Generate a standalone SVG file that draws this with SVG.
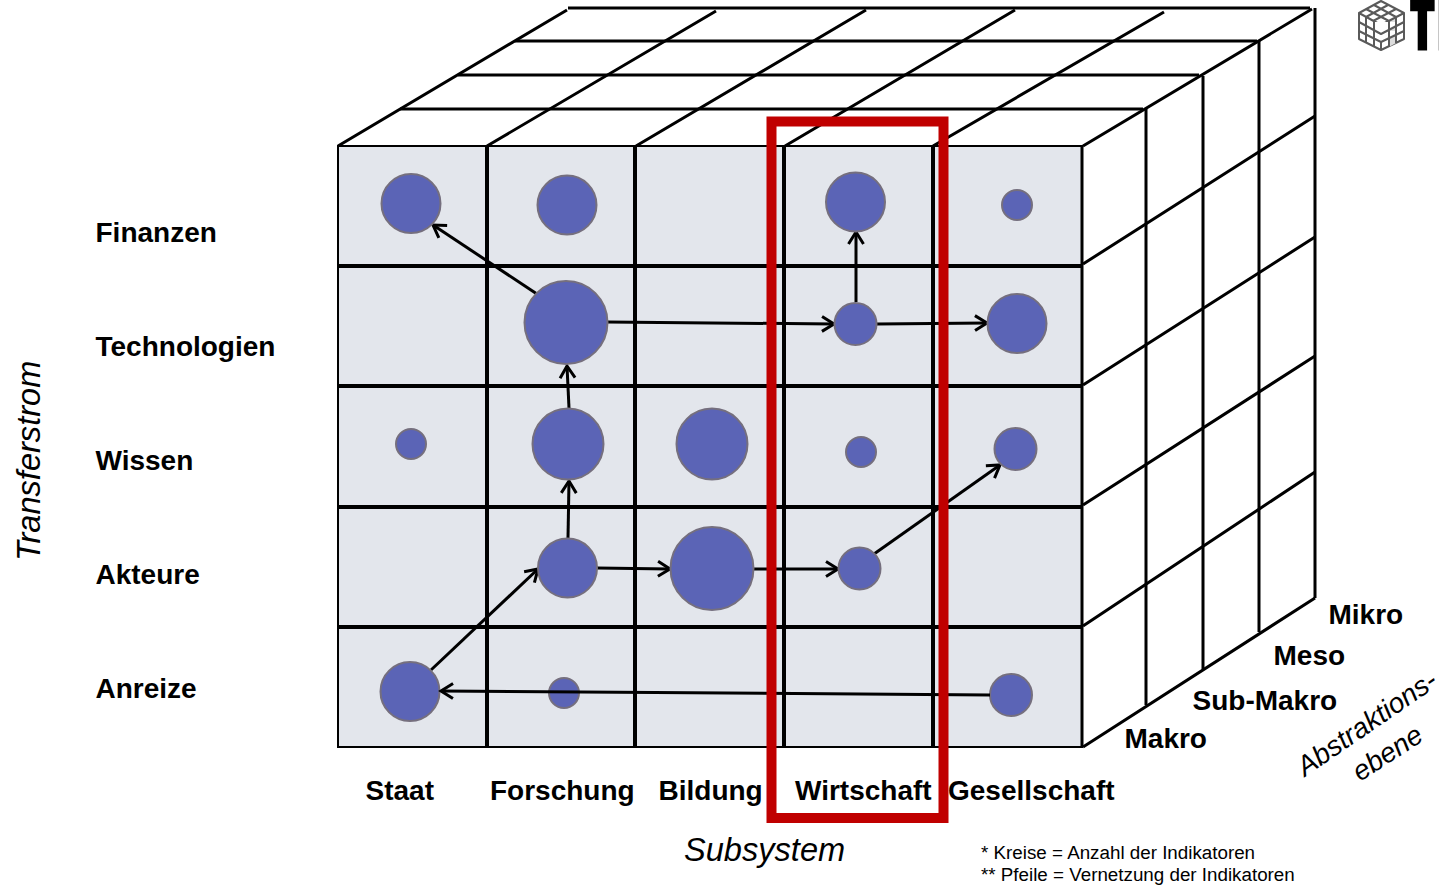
<svg xmlns="http://www.w3.org/2000/svg" width="1439" height="885" viewBox="0 0 1439 885">
<style>
text{font-family:"Liberation Sans",Arial,sans-serif;fill:#000}
.b{font-size:28px;font-weight:700}
.i{font-size:32.6px;font-style:italic}
.a{font-size:27.9px;font-style:italic}
.n{font-size:18.8px}
.l{stroke:#000;fill:none;stroke-linecap:butt}
.t{stroke-width:3}
.f{stroke-width:4}
.node{fill:#5B64B6;stroke:#756F7E;stroke-width:2}
.ar{stroke:#000;stroke-width:3;fill:none}
.cube{stroke:#5a5a5a;stroke-width:2;fill:#fff;stroke-linejoin:round}
</style>
<defs>
<marker id="h" markerUnits="userSpaceOnUse" markerWidth="20" markerHeight="20" refX="16" refY="10" orient="auto" viewBox="0 0 20 20">
<path d="M4 2.500L16 10L4 17.500" fill="none" stroke="#000" stroke-width="3"/>
</marker>
</defs>
<rect x="0" y="0" width="1439" height="885" fill="#fff"/>
<g id="cube-grid">
<rect x="338" y="146" width="744" height="601" fill="#E3E6EC" stroke="#000" stroke-width="2"/>
<g class="l t">
<path d="M338 146L567 10M487 146L716 11M636 146L866 10M785 146L1015 10M933 146L1164 12M1083 146L1312 9"/>
<path d="M568 8H1310M515 41H1257M458 75H1199M400 109H1143"/>
<path d="M1082 146V747M1146 108V705M1203 76V669M1259 41V632M1315 8V598"/>
<path d="M1083 747L1315 598M1083 264L1315 116M1083 385L1315 237M1083 505L1315 356M1083 626L1315 472"/>
</g>
<g class="l f">
<path d="M338 266H1082M338 386H1082M338 507H1082M338 627H1082"/>
<path d="M487 146V747M635 146V747M784 146V747M933 146V747"/>
</g>
</g>
<g id="logo">
<g class="cube">
<path d="M1381 1L1404 13V39L1381 50L1359 39V13Z"/>
<path d="M1389 21L1396 17V43L1389 47Z" fill="#ddd" stroke="none"/>
<path d="M1359 13L1381 25L1404 13M1381 25V50M1366 9L1389 21M1374 5L1396 17M1373 21L1396 9M1366 17L1388 5"/>
<path d="M1359 22L1381 34L1404 22M1359 31L1381 42L1404 31M1366 17V43M1374 21V47M1389 21V47M1396 17V43"/>
</g>
<text transform="translate(1412 46) scale(.5 1)" style="font-size:68px;font-weight:700;stroke:#000;stroke-width:9">T<tspan dx="12">I</tspan></text>
</g>
<g id="connectors">
<path class="ar" d="M540 296L433 225" marker-end="url(#h)"/>
<path class="ar" d="M607 322L834 324" marker-end="url(#h)"/>
<path class="ar" d="M856 302V232" marker-end="url(#h)"/>
<path class="ar" d="M877 324L987 323" marker-end="url(#h)"/>
<path class="ar" d="M569 408L567 366" marker-end="url(#h)"/>
<path class="ar" d="M568 538L569 481" marker-end="url(#h)"/>
<path class="ar" d="M597 568L670 569" marker-end="url(#h)"/>
<path class="ar" d="M753 569L838 569" marker-end="url(#h)"/>
<path class="ar" d="M874 554L1000 465" marker-end="url(#h)"/>
<path class="ar" d="M431 670L538 569" marker-end="url(#h)"/>
</g>
<g id="n-staat-finanzen"><circle class="node" cx="411" cy="203.500" r="29.500"/></g>
<g id="n-forschung-finanzen"><circle class="node" cx="567" cy="205" r="29.500"/></g>
<g id="n-wirtschaft-finanzen"><circle class="node" cx="855.500" cy="202" r="29.500"/></g>
<g id="n-gesellschaft-finanzen"><circle class="node" cx="1017" cy="205" r="15"/></g>
<g id="n-forschung-technologien"><circle class="node" cx="566" cy="322.500" r="41.500"/></g>
<g id="n-wirtschaft-technologien"><circle class="node" cx="855.500" cy="324" r="21"/></g>
<g id="n-gesellschaft-technologien"><circle class="node" cx="1017" cy="323.500" r="29.500"/></g>
<g id="n-staat-wissen"><circle class="node" cx="411" cy="444" r="15"/></g>
<g id="n-forschung-wissen"><circle class="node" cx="568" cy="444" r="35.500"/></g>
<g id="n-bildung-wissen"><circle class="node" cx="712" cy="444" r="35.500"/></g>
<g id="n-wirtschaft-wissen"><circle class="node" cx="861" cy="452" r="15"/></g>
<g id="n-gesellschaft-wissen"><circle class="node" cx="1015.500" cy="449" r="21"/></g>
<g id="n-forschung-akteure"><circle class="node" cx="567.500" cy="568" r="29.500"/></g>
<g id="n-bildung-akteure"><circle class="node" cx="712" cy="568.500" r="41.500"/></g>
<g id="n-wirtschaft-akteure"><circle class="node" cx="859.500" cy="568.500" r="21"/></g>
<g id="n-staat-anreize"><circle class="node" cx="410" cy="691.500" r="29.500"/></g>
<g id="n-forschung-anreize"><circle class="node" cx="564" cy="693" r="15"/></g>
<g id="n-gesellschaft-anreize"><circle class="node" cx="1011" cy="695" r="21"/></g>
<g id="connectors-over">
<path class="ar" d="M990 695L441 691" marker-end="url(#h)"/>
</g>
<g id="highlight"><rect x="771.500" y="121.500" width="172" height="696.500" fill="none" stroke="#C00000" stroke-width="10"/></g>
<g id="labels">
<text class="b" x="95.500" y="242">Finanzen</text>
<text class="b" x="95.500" y="356">Technologien</text>
<text class="b" x="95.500" y="470">Wissen</text>
<text class="b" x="95.500" y="584">Akteure</text>
<text class="b" x="95.500" y="698">Anreize</text>
<text class="b" x="365.500" y="800">Staat</text>
<text class="b" x="490" y="800">Forschung</text>
<text class="b" x="658.500" y="800">Bildung</text>
<text class="b" x="795" y="800">Wirtschaft</text>
<text class="b" x="948" y="800">Gesellschaft</text>
<text class="b" x="1328.500" y="624">Mikro</text>
<text class="b" x="1273.500" y="665">Meso</text>
<text class="b" x="1192.500" y="710">Sub-Makro</text>
<text class="b" x="1124.500" y="748">Makro</text>
<text class="i" x="684" y="861">Subsystem</text>
<text class="i" transform="translate(39.500 561) rotate(-90)">Transferstrom</text>
<text class="a" transform="translate(1305 777) rotate(-34.500)">Abstraktions-</text>
<text class="a" transform="translate(1360 782) rotate(-33)">ebene</text>
<text class="n" x="981" y="859">* Kreise = Anzahl der Indikatoren</text>
<text class="n" x="981" y="881">** Pfeile = Vernetzung der Indikatoren</text>
</g>
</svg>
